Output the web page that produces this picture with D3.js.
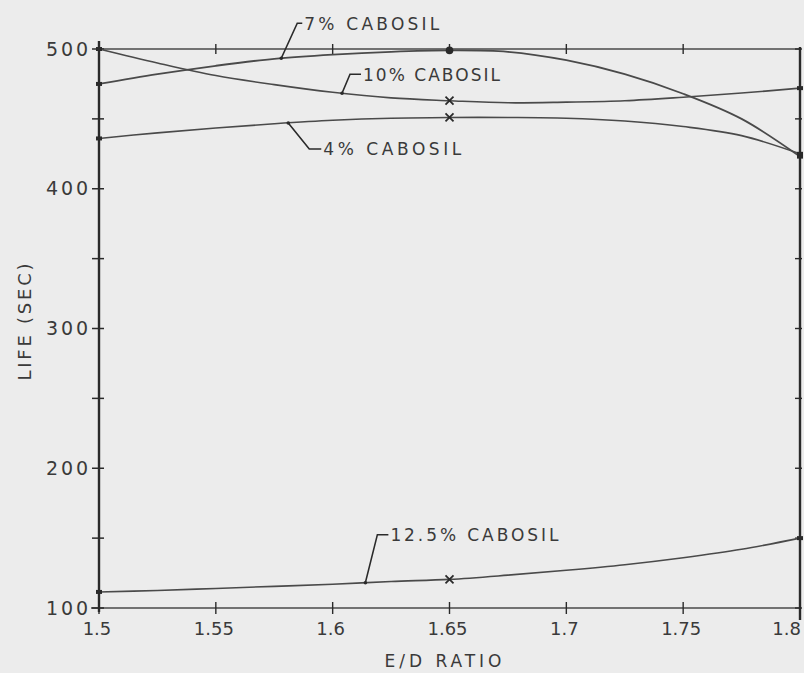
<!DOCTYPE html>
<html>
<head>
<meta charset="utf-8">
<script src="https://cdn.jsdelivr.net/npm/d3@7"></script>
<style>
  html, body { margin: 0; padding: 0; background: #ececec; }
  svg { display: block; }
  text { font-family: "DejaVu Sans", "Liberation Sans", sans-serif; fill: #3a3a3a; }
</style>
</head>
<body>
<svg id="chart" width="804" height="673"></svg>
<script>
// ---- data ----
const ratios = [1.5, 1.525, 1.55, 1.575, 1.6, 1.625, 1.65, 1.675, 1.7, 1.725, 1.75, 1.775, 1.8];
const cabosil7  = [475, 482, 488, 493, 496, 498, 499, 498, 492, 482, 468, 450, 423];
const cabosil10 = [500, 490, 481, 474.5, 469, 465, 463, 461.5, 462, 463, 465.5, 468.5, 472];
const cabosil4  = [436, 440, 443.5, 446.5, 449, 450.5, 451, 451, 450.5, 448.5, 444.5, 438, 425];
const cabosil125 = [111.5, 112.5, 114, 115.5, 117, 119, 120.5, 123.5, 127, 131, 136, 142, 150];
const seriesNames = ["7% CABOSIL", "10% CABOSIL", "4% CABOSIL", "12.5% CABOSIL"];
const markerTypes = ["dot", "x", "x", "x"];
const markerRatio = 1.65;
const labelAnchorRatios = [1.578, 1.604, 1.581, 1.614];
const xTicks = [1.5, 1.55, 1.6, 1.65, 1.7, 1.75, 1.8];
const xTickLabels = ["1.5", "1.55", "1.6", "1.65", "1.7", "1.75", "1.8"];
const yLabelTicks = [100, 200, 300, 400, 500];
const yMinorTicks = [100, 150, 200, 250, 300, 350, 400, 450, 500];
const xTitle = "E/D RATIO";
const yTitle = "LIFE (SEC)";

const allSeries = [cabosil7, cabosil10, cabosil4, cabosil125];

// ---- layout ----
const svg = d3.select("#chart");
const x = d3.scaleLinear().domain([1.5, 1.8]).range([99, 800]);
const y = d3.scaleLinear().domain([100, 500]).range([608, 49]);

const ink = "#2a2a2a";
const curveInk = "#4a4a4a";

// frame: top (500) and bottom (100) lines, thin
svg.append("line").attr("x1", x(1.5)).attr("x2", x(1.8)).attr("y1", y(500)).attr("y2", y(500))
  .attr("stroke", curveInk).attr("stroke-width", 1.6);
svg.append("line").attr("x1", x(1.5) - 8).attr("x2", x(1.8)).attr("y1", y(100)).attr("y2", y(100))
  .attr("stroke", curveInk).attr("stroke-width", 1.6);

// left axis with ticks
const leftAxis = d3.axisLeft(y).tickValues(yMinorTicks).tickSize(0).tickFormat("");
const gl = svg.append("g").attr("transform", `translate(${x(1.5)},0)`).call(leftAxis);
gl.select(".domain").remove();
svg.append("line").attr("x1", x(1.5)).attr("x2", x(1.5)).attr("y1", y(500) - 8).attr("y2", y(100) + 4)
  .attr("stroke", ink).attr("stroke-width", 2.4);
svg.selectAll(".ltick").data(yMinorTicks).enter().append("line")
  .attr("x1", x(1.5) - 7).attr("x2", x(1.5) + 5)
  .attr("y1", d => y(d)).attr("y2", d => y(d)).attr("stroke", ink).attr("stroke-width", 1.5);
svg.selectAll(".ylab").data(yLabelTicks).enter().append("text")
  .attr("x", x(1.5) - 11).attr("y", d => y(d) + 6.5)
  .attr("text-anchor", "end").attr("font-size", 19)
  .attr("textLength", 42).attr("lengthAdjust", "spacing")
  .text(d => d);

// right axis with ticks
svg.append("line").attr("x1", x(1.8)).attr("x2", x(1.8)).attr("y1", y(500) - 2).attr("y2", y(100) + 12)
  .attr("stroke", ink).attr("stroke-width", 2.4);
svg.selectAll(".rtick").data(yMinorTicks).enter().append("line")
  .attr("x1", x(1.8) - 5).attr("x2", x(1.8) + 2)
  .attr("y1", d => y(d)).attr("y2", d => y(d)).attr("stroke", ink).attr("stroke-width", 1.4);

// bottom axis ticks and labels
const bottomAxis = d3.axisBottom(x).tickValues(xTicks).tickSize(0).tickFormat("");
const gb = svg.append("g").attr("transform", `translate(0,${y(100)})`).call(bottomAxis);
gb.select(".domain").remove();
svg.selectAll(".btick").data(xTicks).enter().append("line")
  .attr("x1", d => x(d)).attr("x2", d => x(d))
  .attr("y1", y(100) - 6).attr("y2", y(100) + 6).attr("stroke", ink).attr("stroke-width", 1.4);
svg.selectAll(".ttick").data(xTicks.slice(1, -1)).enter().append("line")
  .attr("x1", d => x(d)).attr("x2", d => x(d))
  .attr("y1", y(500) - 5).attr("y2", y(500) + 5).attr("stroke", ink).attr("stroke-width", 1.4);
svg.selectAll(".xlab").data(xTicks).enter().append("text")
  .attr("x", (d, i) => i === xTicks.length - 1 ? x(d) + 1 : x(d) - 2).attr("y", y(100) + 27)
  .attr("text-anchor", (d, i) => i === xTicks.length - 1 ? "end" : "middle").attr("font-size", 18)
  .text((d, i) => xTickLabels[i]);

// axis titles
svg.append("text").attr("x", 443).attr("y", 667).attr("text-anchor", "middle")
  .attr("font-size", 17).attr("textLength", 117).attr("lengthAdjust", "spacing").text(xTitle);
svg.append("text").attr("transform", "translate(31,322) rotate(-90)").attr("text-anchor", "middle")
  .attr("font-size", 18).attr("textLength", 117).attr("lengthAdjust", "spacing").text(yTitle);

// curves
const line = d3.line().x(d => x(d[0])).y(d => y(d[1])).curve(d3.curveCatmullRom.alpha(0.5));
allSeries.forEach((vals, i) => {
  const pts = ratios.map((r, j) => [r, vals[j]]);
  svg.append("path").datum(pts).attr("d", line)
    .attr("fill", "none").attr("stroke", curveInk).attr("stroke-width", i === 0 ? 1.8 : 1.6);
  // end markers on the axes
  [0, ratios.length - 1].forEach(j => {
    svg.append("rect").attr("x", x(ratios[j]) - 3).attr("y", y(vals[j]) - 2)
      .attr("width", 6).attr("height", 4).attr("fill", ink);
  });
  // marker at 1.65
  const mi = ratios.indexOf(markerRatio);
  const mx = x(markerRatio), my = y(vals[mi]);
  if (markerTypes[i] === "dot") {
    svg.append("circle").attr("cx", mx).attr("cy", my).attr("r", 3.8).attr("fill", ink);
  } else {
    svg.append("path").attr("d", `M${mx - 4},${my - 4}L${mx + 4},${my + 4}M${mx - 4},${my + 4}L${mx + 4},${my - 4}`)
      .attr("stroke", ink).attr("stroke-width", 1.8);
  }
});

// annotations with leader lines
const leaderOffsets = [
  { dx: 16, dy: -35, hook: 5, tlen: 135 },
  { dx: 8, dy: -19, hook: 11, tlen: 137 },
  { dx: 21, dy: 26, hook: 12, tlen: 138 },
  { dx: 12, dy: -48, hook: 11, tlen: 168 }
];
allSeries.forEach((vals, i) => {
  const r = labelAnchorRatios[i];
  const v = d3.scaleLinear().domain(ratios).range(vals)(r);
  const ax = x(r), ay = y(v);
  const o = leaderOffsets[i];
  const ex = ax + o.dx, ey = ay + o.dy;
  svg.append("path").attr("d", `M${ax},${ay}L${ex},${ey}L${ex + o.hook},${ey}`)
    .attr("fill", "none").attr("stroke", ink).attr("stroke-width", 1.6);
  svg.append("circle").attr("cx", ax).attr("cy", ay).attr("r", 1.8).attr("fill", ink);
  svg.append("text").attr("x", ex + o.hook + 2).attr("y", ey + 6.5)
    .attr("font-size", 17).attr("textLength", o.tlen).attr("lengthAdjust", "spacing")
    .text(seriesNames[i]);
});
</script>
</body>
</html>
